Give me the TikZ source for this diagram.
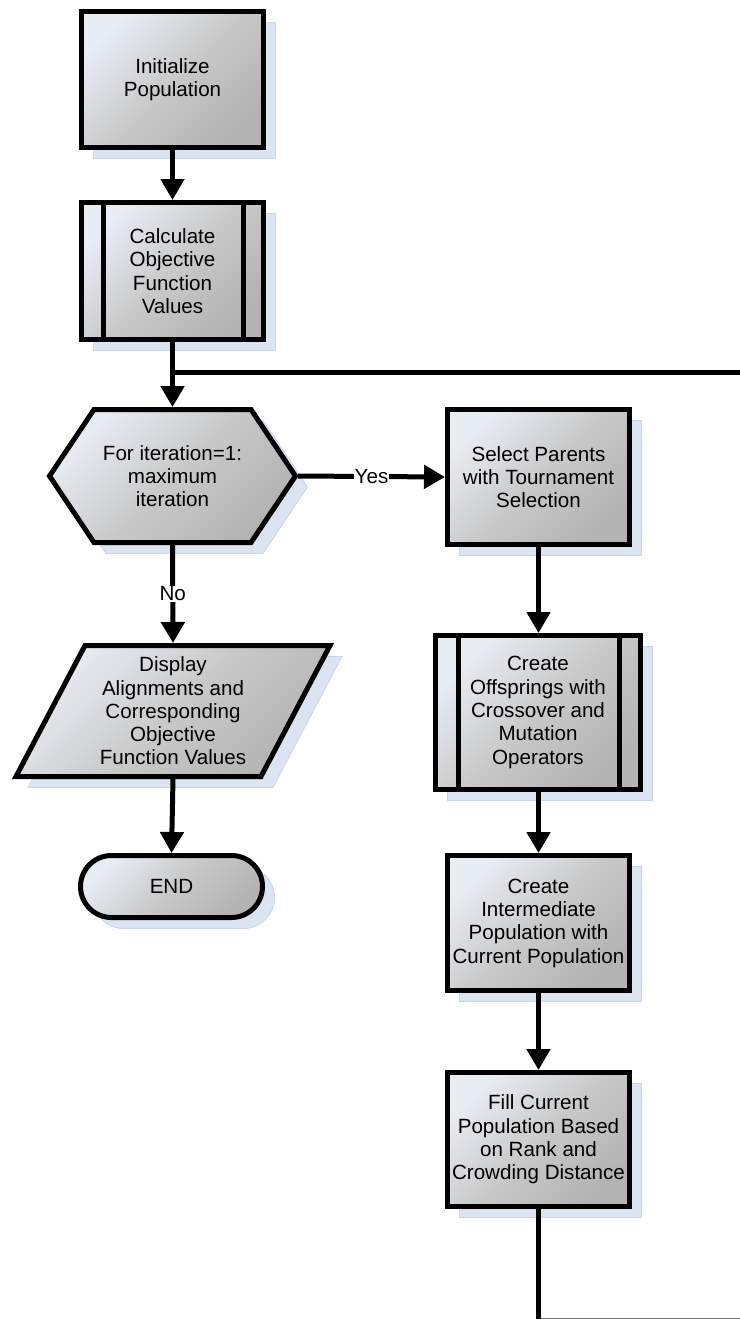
\documentclass[tikz,border=0pt]{standalone}
\usepackage{fontspec}
\setmainfont{Liberation Sans}
\usetikzlibrary{arrows.meta,shadows,calc}
\definecolor{boxlite}{HTML}{E8EDF4}
\definecolor{boxmid}{HTML}{C9C9C9}
\definecolor{boxdark}{HTML}{B3B3B3}
\definecolor{shadowfill}{HTML}{DBE5F1}
\definecolor{shadowedge}{HTML}{C8D5E8}
\begin{document}
\begin{tikzpicture}[x=1pt,y=-1pt,
  font=\fontsize{20.6}{23.3}\selectfont,
  boxshadow/.style={drop shadow={shadow xshift=12pt,shadow yshift=-11pt,opacity=1,fill=shadowfill,draw=shadowedge,line width=0.8pt}},
  boxfill/.style={top color=boxlite,bottom color=boxdark,middle color=boxmid,shading angle=45},
  flowbox/.style={draw=black,line width=5pt,boxshadow,boxfill,align=center,inner sep=0pt,line join=miter},
  textonly/.style={align=center,inner sep=0pt,outer sep=2.5pt},
  wire/.style={line width=5pt},
  conn/.style={line width=5pt,-{Triangle[width=23pt,length=21pt]}},
  lab/.style={fill=white,inner sep=1pt}
]
\useasboundingbox (0,0) rectangle (739,1319);

% left column
\node[flowbox,minimum width=182pt,minimum height=136pt] (init) at (172.5,79.5) {Initialize\\Population};
\node[flowbox,minimum width=182pt,minimum height=137pt] (calc) at (172.5,271) {Calculate\\Objective\\Function\\Values};
\draw[wire] ([xshift=24pt]calc.north west) -- ([xshift=24pt]calc.south west);
\draw[wire] ([xshift=-23pt]calc.north east) -- ([xshift=-23pt]calc.south east);

\path[flowbox] (49.5,476) -- (94,409.5) -- (251,409.5) -- (295.5,476) -- (251,542.5) -- (94,542.5) -- cycle;
\node[textonly,minimum width=246pt,minimum height=133pt] (hex) at (172.5,476) {For iteration=1:\\maximum\\iteration};

\path[flowbox] (85,645.5) -- (330,645.5) -- (261,776.5) -- (16,776.5) -- cycle;
\node[textonly,minimum width=245pt,minimum height=131pt] (para) at (173,711) {Display\\Alignments and\\Corresponding\\Objective\\Function Values};

\node[flowbox,minimum width=182pt,minimum height=62pt,rounded corners=31pt] (end) at (171.5,886.5) {END};

% right column
\node[flowbox,minimum width=182pt,minimum height=135pt] (select) at (538.5,477) {Select Parents\\with Tournament\\Selection};
\node[flowbox,minimum width=205pt,minimum height=154pt] (offs) at (538,712.5) {Create\\Offsprings with\\Crossover and\\Mutation\\Operators};
\draw[wire] ([xshift=25pt]offs.north west) -- ([xshift=25pt]offs.south west);
\draw[wire] ([xshift=-24pt]offs.north east) -- ([xshift=-24pt]offs.south east);
\node[flowbox,minimum width=182pt,minimum height=135pt] (inter) at (538.5,923) {Create\\Intermediate\\Population with\\Current Population};
\node[flowbox,minimum width=182pt,minimum height=134pt] (fill) at (538.5,1139.5) {Fill Current\\Population Based\\on Rank and\\Crowding Distance};

% connectors
\draw[conn] (init.south) -- (calc.north);
\draw[conn] (calc.south) -- (hex.north);
\coordinate (j) at (172.5,372);
\coordinate (loopin) at (745,372);
\draw[wire] (j) -- (loopin);
\draw[conn] (hex.east) -- node[lab]{Yes} (select.west);
\draw[conn] (hex.south) -- node[lab]{No} (para.north);
\draw[conn] (para.south) -- (end.north);
\draw[conn] (select.south) -- (select.south |- offs.north);
\draw[conn] (select.south |- offs.south) -- (inter.north);
\draw[conn] (inter.south) -- (fill.north);
\coordinate (bot) at (538.5,1325);
\draw[wire] (fill.south) -- (bot);
\coordinate (botL) at (541,1318.4);
\coordinate (botR) at (745,1318.4);
\draw[black!55,line width=1.2pt] (botL) -- (botR);
\end{tikzpicture}
\end{document}
